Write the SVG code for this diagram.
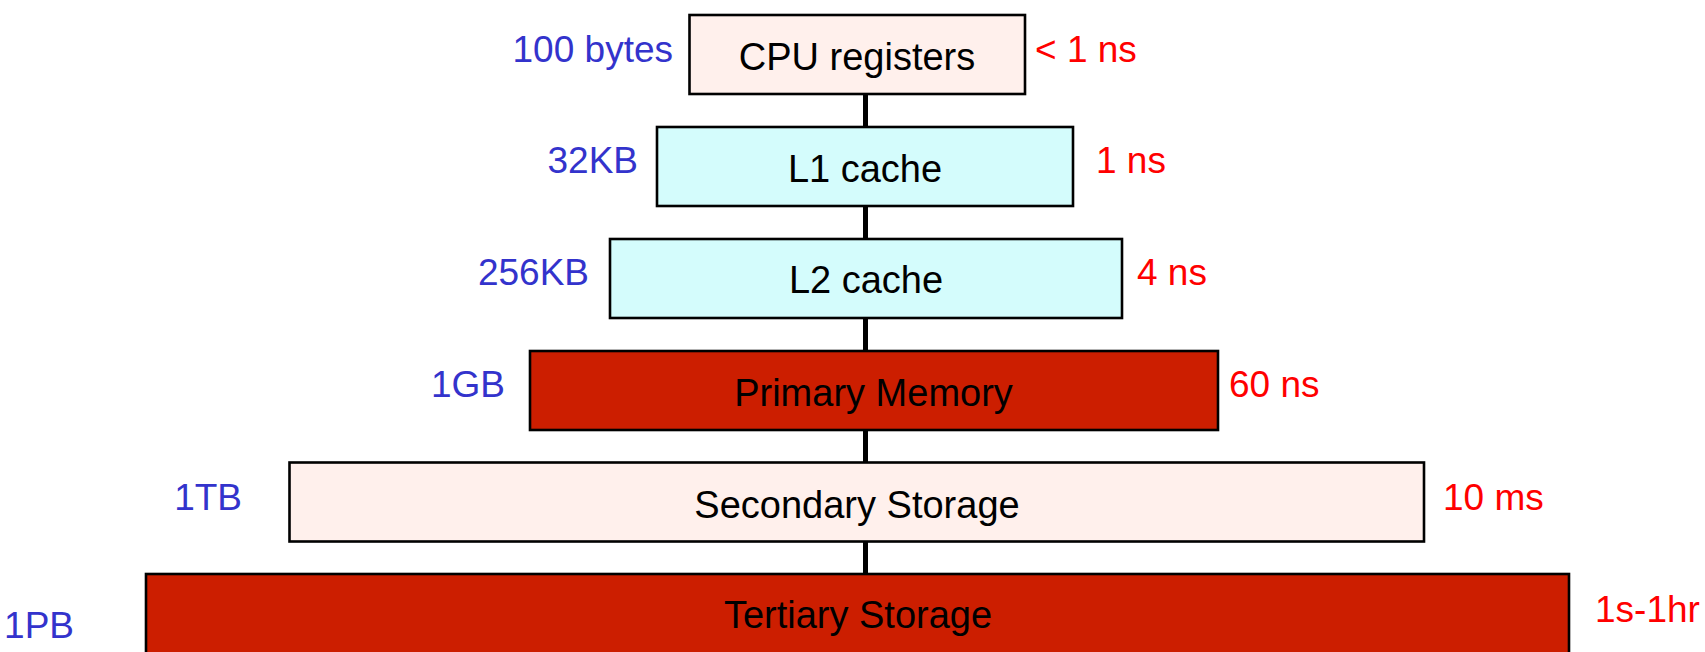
<svg xmlns="http://www.w3.org/2000/svg" width="1705" height="652" viewBox="0 0 1705 652">
  <style>
    .box { stroke: #000; stroke-width: 2.6; }
    .pink { fill: #FFF0EC; }
    .cyan { fill: #D4FCFC; }
    .red { fill: #CC1E00; }
    .t { font-family: "Liberation Sans", Arial, sans-serif; font-size: 38px; fill: #000; text-anchor: middle; }
    .size { font-family: "Liberation Sans", Arial, sans-serif; font-size: 37px; fill: #3333CC; text-anchor: end; }
    .time { font-family: "Liberation Sans", Arial, sans-serif; font-size: 37px; fill: #FF0000; text-anchor: start; }
  </style>
  <rect width="1705" height="652" fill="#fff"/>
  <g id="connectors">
    <line x1="865.5" y1="94" x2="865.5" y2="575" stroke="#000" stroke-width="5"/>
  </g>
  <g id="cpu">
    <rect class="box pink" x="689.5" y="15" width="335.5" height="79"/>
    <text class="t" x="857" y="70">CPU registers</text>
    <text class="size" x="673" y="62">100 bytes</text>
    <text class="time" x="1035" y="62">&lt; 1 ns</text>
  </g>
  <g id="l1">
    <rect class="box cyan" x="657" y="127" width="416" height="79"/>
    <text class="t" x="865" y="182">L1 cache</text>
    <text class="size" x="638" y="173">32KB</text>
    <text class="time" x="1096" y="173">1 ns</text>
  </g>
  <g id="l2">
    <rect class="box cyan" x="610" y="239" width="512" height="79"/>
    <text class="t" x="866" y="293">L2 cache</text>
    <text class="size" x="589" y="285">256KB</text>
    <text class="time" x="1137" y="285">4 ns</text>
  </g>
  <g id="primary">
    <rect class="box red" x="530" y="351" width="688" height="79"/>
    <text class="t" x="873.5" y="406">Primary Memory</text>
    <text class="size" x="505" y="397">1GB</text>
    <text class="time" x="1229" y="397">60 ns</text>
  </g>
  <g id="secondary">
    <rect class="box pink" x="289.5" y="462.5" width="1134.5" height="79"/>
    <text class="t" x="857" y="518">Secondary Storage</text>
    <text class="size" x="242" y="510">1TB</text>
    <text class="time" x="1443" y="510">10 ms</text>
  </g>
  <g id="tertiary">
    <rect class="box red" x="146" y="574" width="1423" height="100"/>
    <text class="t" x="858" y="628">Tertiary Storage</text>
    <text class="size" x="74" y="638">1PB</text>
    <text class="time" x="1595" y="622">1s-1hr</text>
  </g>
</svg>
